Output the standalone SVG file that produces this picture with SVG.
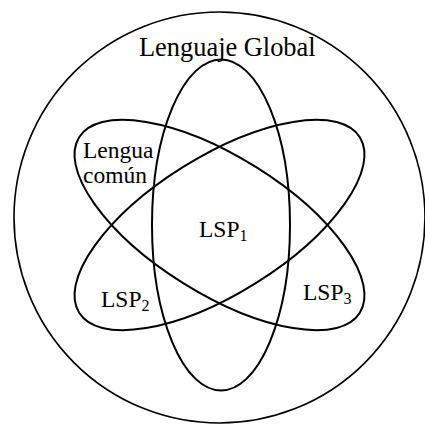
<svg xmlns="http://www.w3.org/2000/svg" width="425" height="426" viewBox="0 0 425 426">
<style>
.sh{fill:none;stroke:#000;stroke-width:2}
.outer{fill:none;stroke:#000;stroke-width:1.6}
.lbl{font-size:23.5px}
.sub{font-size:16px}
</style>
<rect width="425" height="426" fill="#fff"/>
<g font-family="'Liberation Serif', 'Times New Roman', 'DejaVu Serif', serif" fill="#000">
<g id="global">
<circle class="outer" cx="219.5" cy="217.5" r="205.5"/>
<text x="139" y="56" font-size="26.4">Lenguaje Global</text>
</g>
<g id="lsp1">
<ellipse class="sh" cx="221" cy="225" rx="69" ry="165.5"/>
<text class="lbl" x="199" y="237">LSP<tspan class="sub" dy="3.5">1</tspan></text>
</g>
<g id="lsp3">
<ellipse class="sh" cx="219.5" cy="225" rx="165.5" ry="68.5" transform="rotate(32 219.5 225)"/>
<text class="lbl" x="303" y="300">LSP<tspan class="sub" dy="3.5">3</tspan></text>
</g>
<g id="lsp2">
<ellipse class="sh" cx="219.5" cy="225" rx="165.5" ry="68.5" transform="rotate(-32 219.5 225)"/>
<text class="lbl" x="101" y="307">LSP<tspan class="sub" dy="3.5">2</tspan></text>
</g>
<g id="lengua-comun">
<text class="lbl" x="83" y="158">Lengua</text>
<text class="lbl" x="83" y="183">común</text>
</g>
</g>
<g id="connectors"></g>
</svg>
